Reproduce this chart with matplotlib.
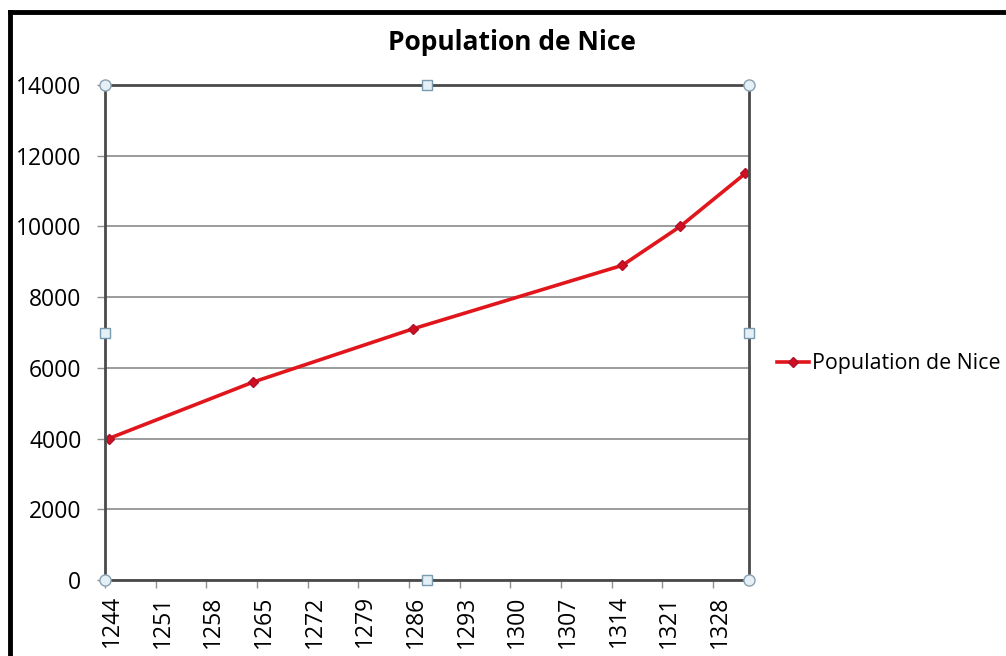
import matplotlib.pyplot as plt
from matplotlib.lines import Line2D
from matplotlib.transforms import ScaledTranslation
import numpy as np

years = [1244, 1264, 1286, 1315, 1323, 1332]
population = [4000, 5600, 7100, 8900, 10000, 11500]
xticks = list(range(1244, 1333, 7))
yticks = list(range(0, 14001, 2000))
title = 'Population de Nice'
series_name = 'Population de Nice'

plt.rcParams['font.family'] = ['Open Sans', 'DejaVu Sans']

fig = plt.figure(figsize=(10.06, 6.56), dpi=100)
ax = fig.add_axes([105 / 1006, 1 - 580 / 656, 644 / 1006, 495 / 656])

# Excel date axis: points sit in the middle of their unit
ax.plot(np.array(years) + 0.5, population, color='#e0161c', lw=2.6,
        marker='D', ms=5.5, mfc='#d01020', mec='#b0102a', label=series_name)

ax.set_xlim(1244, 1333)
ax.set_ylim(0, 14000)
ax.set_xticks(xticks)
ax.set_xticklabels([str(t) for t in xticks], rotation=90, fontsize=16.5)
ax.set_yticks(yticks)
ax.set_yticklabels([str(t) for t in yticks], fontsize=16.5)
ax.tick_params(axis='x', length=6, width=1, color='#909090', pad=5, direction='out')
ax.tick_params(axis='y', length=6, width=1, color='#909090', pad=11, direction='out')
shift = ScaledTranslation(7 / 100, 0, fig.dpi_scale_trans)
for lab in ax.get_xticklabels():
    lab.set_horizontalalignment('center')
    lab.set_transform(lab.get_transform() + shift)
ax.yaxis.grid(True, color='#8a8a8a', lw=1.2)
ax.set_axisbelow(True)
for sp in ax.spines.values():
    sp.set_color('#4a4a4a')
    sp.set_linewidth(2)

# selection handles
for (hx, hy) in [(0, 1), (1, 1), (0, 0), (1, 0)]:
    ax.plot(hx, hy, 'o', ms=8, mfc='#e4f0f6', mec='#8aa0b0', mew=1,
            transform=ax.transAxes, clip_on=False, zorder=5)
for (hx, hy) in [(0.5, 1), (0.5, 0), (0, 0.5), (1, 0.5)]:
    ax.plot(hx, hy, 's', ms=6.5, mfc='#e4f0f6', mec='#7a9ab0', mew=1,
            transform=ax.transAxes, clip_on=False, zorder=5)

fig.text(512 / 1006, 1 - 43 / 656, title, ha='center', va='center',
         fontsize=19, fontweight='bold')

ax.legend(loc='center left', bbox_to_anchor=(1.03, 0.437), frameon=False,
          fontsize=15.4, handlelength=1.5, handletextpad=0.15, borderaxespad=0)

# black frame of the screenshot
fig.add_artist(Line2D([9.5 / 1006, 1], [1 - 11.5 / 656, 1 - 11.5 / 656],
                      color='black', lw=3.5, transform=fig.transFigure))
fig.add_artist(Line2D([9.5 / 1006, 9.5 / 1006], [0, 1 - 11.5 / 656],
                      color='black', lw=3.5, transform=fig.transFigure))

fig.savefig('out.png', dpi=100)
